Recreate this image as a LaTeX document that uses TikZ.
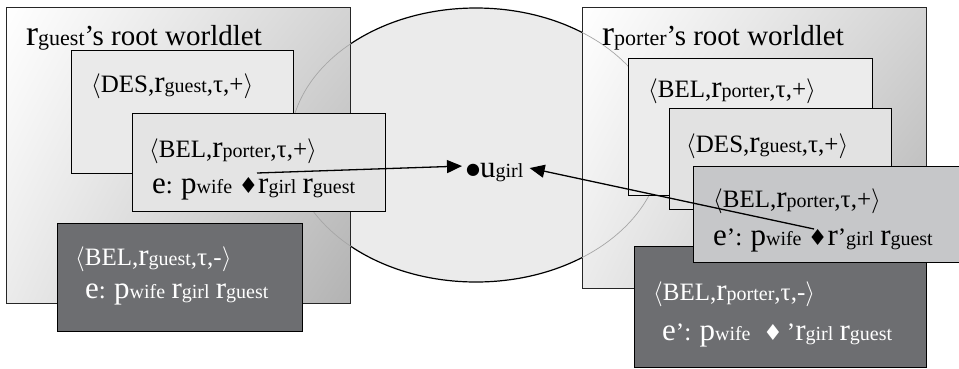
\RequirePackage{fix-cm}
\documentclass[tikz,border=0pt]{standalone}
\usepackage{fontspec}
\setmainfont{Liberation Serif}
\newfontfamily\dvs{DejaVu Sans}
\usetikzlibrary{arrows.meta,shapes.geometric,shadings}
\definecolor{ellfill}{HTML}{EBEBEB}
\definecolor{lightA}{HTML}{EAEAEA}
\definecolor{lightB}{HTML}{E4E4E4}
\definecolor{lightC}{HTML}{ECECEC}
\definecolor{lightD}{HTML}{E2E2E2}
\definecolor{midgrey}{HTML}{C6C7C9}
\definecolor{darkbox}{HTML}{6D6E71}
\newcommand\TxS{\fontsize{25}{30}\selectfont}
\newcommand\Vx[1]{{\fontsize{31}{31}\selectfont #1}}
\newcommand\Sbx[1]{{\fontsize{20}{20}\selectfont #1}}
\newcommand\dia{{\dvs\fontsize{22}{22}\selectfont ♦}}
\newcommand\bul{\raisebox{3pt}{\dvs\fontsize{16}{16}\selectfont ●}}
\newcommand\Lb{$\langle$}
\newcommand\Rb{$\rangle$}
\tikzset{
  rootbox/.style={draw=black!85, line width=1.2pt, anchor=north west, inner sep=0pt,
    upper left=white, upper right=black!17, lower left=black!8, lower right=black!30},
  inbox/.style={draw=black, line width=1.2pt, anchor=north west, inner sep=0pt},
  txt/.style={anchor=base west, inner sep=0pt, font=\TxS},
  wtxt/.style={txt, text=white},
  ttl/.style={anchor=base west, inner sep=0pt, font=\fontsize{29}{32}\selectfont},
  arr/.style={line width=1.3pt, -{Triangle[length=15pt,width=13pt]}},
  ellshape/.style={ellipse, minimum width=372pt, minimum height=274pt, inner sep=0pt}
}
\begin{document}
\begin{tikzpicture}[x=1pt,y=-1pt]
\useasboundingbox (0,0) rectangle (959,368);
% central ellipse
\node[ellshape, draw=black, line width=1.2pt, fill=ellfill] (ell) at (476,145) {};
% root worldlets
\node[rootbox, minimum width=344pt, minimum height=296pt] (rootL) at (6,7) {};
\node[rootbox, minimum width=344pt, minimum height=281pt] (rootR) at (582,7) {};
\begin{scope}
\clip (rootL.north west) rectangle (rootL.south east)
      (rootR.north west) rectangle (rootR.south east);
\node[ellshape, draw=black!35, line width=0.7pt] (ellE) at (ell.center) {};
\end{scope}
\node[ttl] (tL) at (26,45) {{\fontsize{36}{36}\selectfont r}{\fontsize{22}{22}\selectfont guest}’s root worldlet};
\node[ttl] (tR) at (602,45) {{\fontsize{36}{36}\selectfont r}{\fontsize{22}{22}\selectfont porter}’s root worldlet};
% left inner boxes
\node[inbox, fill=lightA, minimum width=222pt, minimum height=123pt] (desL) at (71,50) {};
\node[inbox, fill=lightB, minimum width=253pt, minimum height=98pt] (belL) at (132,113) {};
\node[inbox, fill=darkbox, minimum width=245pt, minimum height=108pt] (negL) at (57,223) {};
\node[txt] (desLt) at (91,92) {\Lb DES,\Vx{r}\Sbx{guest},τ,+\Rb};
\node[txt] (belLt) at (149,157) {\Lb BEL,\Vx{r}\Sbx{porter},τ,+\Rb};
\node[txt] (belLe) at (152,193) {\Vx{e}: \Vx{p}\Sbx{wife} \dia\Vx{r}\Sbx{girl} \Vx{r}\Sbx{guest}};
\node[wtxt] (negLt) at (75,265) {\Lb BEL,\Vx{r}\Sbx{guest},τ,-\Rb};
\node[wtxt] (negLe) at (85,298) {\Vx{e}: \Vx{p}\Sbx{wife} \Vx{r}\Sbx{girl} \Vx{r}\Sbx{guest}};
% right inner boxes
\node[inbox, fill=lightC, minimum width=244pt, minimum height=137pt] (belR) at (628,58) {};
\node[inbox, fill=lightD, minimum width=222pt, minimum height=101pt] (desR) at (669,108) {};
\node[inbox, fill=darkbox, minimum width=292pt, minimum height=121pt] (negR) at (634,246) {};
\node[inbox, fill=midgrey, minimum width=266pt, minimum height=96pt] (belR2) at (693,166) {};
\node[txt] (belRt) at (648,97) {\Lb BEL,\Vx{r}\Sbx{porter},τ,+\Rb};
\node[txt] (desRt) at (686,152) {\Lb DES,\Vx{r}\Sbx{guest},τ,+\Rb};
\node[txt] (belR2t) at (713,207) {\Lb BEL,\Vx{r}\Sbx{porter},τ,+\Rb};
\node[txt] (belR2e) at (713,245) {\Vx{e}’: \Vx{p}\Sbx{wife} \dia\Vx{r}’\Sbx{girl} \Vx{r}\Sbx{guest}};
\node[wtxt] (negRt) at (653,300) {\Lb BEL,\Vx{r}\Sbx{porter},τ,-\Rb};
\node[wtxt] (negRe) at (662,340) {\Vx{e}’: \Vx{p}\Sbx{wife}\ \ \dia\,’\Vx{r}\Sbx{girl} \Vx{r}\Sbx{guest}};
% u_girl
\node[txt] (ug) at (466,177) {\bul\Vx{u}\Sbx{girl}};
% connectors
\coordinate (d1) at (257,173);
\coordinate (d2) at (814,229);
\draw[arr] (d1) -- ([xshift=-4pt,yshift=6pt]ug.west);
\draw[arr] (d2) -- ([xshift=6pt,yshift=4pt]ug.east);
\end{tikzpicture}
\end{document}
